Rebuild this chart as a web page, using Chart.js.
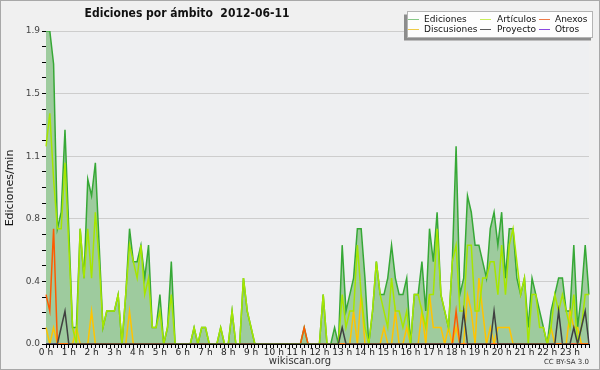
<!DOCTYPE html>
<html><head><meta charset="utf-8">
<script src="https://cdn.jsdelivr.net/npm/chart.js@4/dist/chart.umd.min.js"></script>
<style>html,body{margin:0;padding:0;background:#f0f0f0}canvas{display:block}</style>
</head><body>
<canvas id="c" width="600" height="370"></canvas>
<script>
const chartTitle = 'Ediciones por ámbito  2012-06-11';
const yAxisTitle = 'Ediciones/min';
const seriesNames = ['Ediciones', 'Artículos', 'Anexos', 'Discusiones', 'Proyecto', 'Otros'];
const hourLabels = ['0 h','1 h','2 h','3 h','4 h','5 h','6 h','7 h','8 h','9 h','10 h','11 h',
                    '12 h','13 h','14 h','15 h','16 h','17 h','18 h','19 h','20 h','21 h','22 h','23 h'];
const yMajorTicks = [0, 0.38, 0.76, 1.14, 1.52, 1.9];
const yMajorLabels = ['0.0', '0.4', '0.8', '1.1', '1.5', '1.9'];

// 10-minute slots, 144 per day
const slots = [];
for (let h = 0; h < 24; h++) for (let m = 0; m < 60; m += 10) slots.push(h + ':' + (m < 10 ? '0' : '') + m);

const ediciones = [
  1.9,1.9,1.7,0.7,0.8,1.3,0.7,0.1,0.1,0.7,0.4,1.0,
  0.9,1.1,0.6,0.1,0.2,0.2,0.2,0.3,0,0.3,0.7,0.5,
  0.5,0.6,0.4,0.6,0.1,0.1,0.3,0,0.1,0.5,0,0,
  0,0,0,0.1,0,0.1,0.1,0,0,0,0.1,0,
  0,0.2,0,0,0.4,0.2,0.1,0,0,0,0,0,
  0,0,0,0,0,0,0,0,0.1,0,0,0,
  0,0.3,0,0,0.1,0,0.6,0.2,0.3,0.4,0.7,0.7,
  0.4,0,0.2,0.5,0.3,0.3,0.4,0.6,0.4,0.3,0.3,0.4,
  0,0.3,0.3,0.5,0.2,0.7,0.5,0.8,0.3,0.2,0.1,0.5,
  1.2,0.3,0.4,0.9,0.8,0.6,0.6,0.5,0.4,0.7,0.8,0.6,
  0.8,0.4,0.7,0.7,0.4,0.3,0.4,0.1,0.4,0.3,0.2,0.1,
  0,0.2,0.3,0.4,0.4,0.2,0.2,0.6,0.1,0.3,0.6,0.3
];
const articulos = [
  1.2,1.4,1.0,0.7,0.7,1.1,0.6,0.1,0,0.7,0.4,0.7,
  0.4,0.8,0.5,0.1,0.2,0.2,0.2,0.3,0,0.3,0.6,0.5,
  0.4,0.6,0.3,0.4,0.1,0.1,0.2,0,0.1,0.3,0,0,
  0,0,0,0.1,0,0.1,0.1,0,0,0,0.1,0,
  0,0.2,0,0,0.4,0.2,0.1,0,0,0,0,0,
  0,0,0,0,0,0,0,0,0,0,0,0,
  0,0.3,0,0,0,0,0.3,0.1,0.2,0.2,0.6,0.3,
  0.1,0,0.2,0.5,0.3,0.2,0.1,0.4,0.2,0.2,0.1,0.2,
  0,0.3,0.3,0.2,0.1,0.3,0.3,0.7,0.3,0.2,0.1,0.5,
  0.6,0.2,0.2,0.6,0.6,0.2,0.2,0.4,0.4,0.5,0.5,0.3,
  0.6,0.3,0.6,0.7,0.5,0.3,0.4,0,0.3,0.3,0.1,0.1,
  0,0.1,0.3,0.2,0.3,0.2,0.1,0.3,0,0.1,0.3,0.3
];
const anexos = [
  0.3,0.2,0.7,0,0,0,0,0,0,0,0,0,
  0,0,0,0,0,0,0,0,0,0,0,0,
  0,0,0,0,0,0,0,0,0,0,0,0,
  0,0,0,0,0,0,0,0,0,0,0,0,
  0,0,0,0,0,0,0,0,0,0,0,0,
  0,0,0,0,0,0,0,0,0.1,0,0,0,
  0,0,0,0,0,0,0,0,0,0,0,0,
  0,0,0,0,0,0,0,0,0,0,0,0,
  0,0,0,0,0,0,0,0,0,0,0,0,
  0.2,0,0,0,0,0,0,0,0,0,0,0,
  0,0,0,0,0,0,0,0,0,0,0,0,
  0,0,0,0,0,0,0,0,0,0,0,0
];
const discusiones = [
  0.1,0,0.1,0,0,0,0,0,0.1,0,0,0,
  0.2,0,0,0,0,0,0,0,0,0,0.2,0,
  0,0,0,0,0,0,0,0,0,0,0,0,
  0,0,0,0,0,0,0,0,0,0,0,0,
  0,0,0,0,0,0,0,0,0,0,0,0,
  0,0,0,0,0,0,0,0,0,0,0,0,
  0,0,0,0,0,0,0,0,0,0.2,0,0.3,
  0,0,0,0,0,0.1,0,0,0.2,0,0,0.1,
  0,0,0,0.2,0,0.3,0.1,0.1,0.1,0,0.1,0,
  0.1,0,0,0.3,0.2,0,0.4,0.2,0,0.1,0,0.1,
  0.1,0.1,0.1,0,0,0,0,0,0,0,0,0,
  0,0.1,0,0,0,0,0.2,0.1,0.1,0,0,0
];
const proyecto = [
  0,0,0,0,0.1,0.2,0,0,0,0,0,0,
  0,0,0,0,0,0,0,0,0,0,0,0,
  0,0,0,0,0,0,0,0,0,0,0,0,
  0,0,0,0,0,0,0,0,0,0,0,0,
  0,0,0,0,0,0,0,0,0,0,0,0,
  0,0,0,0,0,0,0,0,0,0,0,0,
  0,0,0,0,0,0,0.1,0,0,0,0,0,
  0,0,0,0,0,0,0,0,0,0,0,0,
  0,0,0,0,0,0,0,0,0,0,0,0,
  0,0,0.2,0,0,0,0,0,0,0,0.2,0,
  0,0,0,0,0,0,0,0,0,0,0,0,
  0,0,0,0.2,0,0,0,0.1,0,0.1,0.2,0
];
const otros = [
  0,0,0,0,0,0,0,0,0,0,0,0,
  0,0,0,0,0,0,0,0,0,0,0,0,
  0,0,0,0,0,0,0,0,0,0,0,0,
  0,0,0,0,0,0,0,0,0,0,0,0,
  0,0,0,0,0,0,0,0,0,0,0,0,
  0,0,0,0,0,0,0,0,0,0,0,0,
  0,0,0,0,0,0,0,0,0,0,0,0,
  0,0,0,0,0,0,0,0,0,0,0,0,
  0,0,0,0,0,0,0,0,0,0,0,0,
  0,0,0,0,0,0,0,0,0,0,0,0,
  0,0,0,0,0,0,0,0,0,0,0,0,
  0,0,0,0,0,0,0,0,0,0,0,0
];

const FONT = "'DejaVu Sans', sans-serif";
const TITLE_FONT = "'DejaVu Sans Condensed', 'DejaVu Sans', sans-serif";
const colors = {
  Ediciones: '#36a836', 'Artículos': '#a6e600', Anexos: '#ff5a00',
  Discusiones: '#ffc400', Proyecto: '#404040', Otros: '#8a3be0'
};
const legendColors = {
  Ediciones: '#86c886', 'Artículos': '#c8ee5a', Anexos: '#ee7a48',
  Discusiones: '#eecb48', Proyecto: '#5a5a5a', Otros: '#8a48e0'
};
const seriesData = [ediciones, articulos, anexos, discusiones, proyecto, otros];

// minor y ticks: 4 subdivisions per major interval
const yTickValues = [];
for (let k = 0; k < yMajorTicks.length - 1; k++) {
  const a = yMajorTicks[k], b = yMajorTicks[k + 1];
  for (let j = 0; j < 4; j++) yTickValues.push(a + (b - a) * j / 4);
}
yTickValues.push(yMajorTicks[yMajorTicks.length - 1]);

const bgPlugin = {
  id: 'bg',
  beforeDraw(chart) {
    const c = chart.ctx, a = chart.chartArea;
    c.save();
    c.fillStyle = '#f0f0f0';
    c.fillRect(0, 0, chart.width, chart.height);
    c.strokeStyle = '#a8a8a8';
    c.lineWidth = 1;
    c.strokeRect(0.5, 0.5, chart.width - 1, chart.height - 1);
    c.fillStyle = '#eeeff1';
    c.fillRect(a.left, a.top, a.right - a.left, a.bottom - a.top);
    c.restore();
  }
};

const decorPlugin = {
  id: 'decor',
  afterDraw(chart) {
    const c = chart.ctx;
    c.save();
    // title
    c.fillStyle = '#111';
    c.font = 'bold 12px ' + TITLE_FONT;
    c.textAlign = 'center';
    c.textBaseline = 'middle';
    c.fillText(chartTitle, 187, 14);
    // y axis title
    c.save();
    c.translate(10, 188);
    c.rotate(-Math.PI / 2);
    c.font = '11px ' + FONT;
    c.fillStyle = '#111';
    c.fillText(yAxisTitle, 0, 0);
    c.restore();
    // footer
    c.font = '10px ' + FONT;
    c.fillStyle = '#333';
    c.fillText('wikiscan.org', 300, 361);
    c.font = '7px ' + FONT;
    c.textAlign = 'right';
    c.fillText('CC BY-SA 3.0', 589, 362);
    // legend
    c.fillStyle = '#8c8c8c';
    c.fillRect(404, 14.5, 187, 26);
    c.fillStyle = '#fdfdfd';
    c.fillRect(407, 11.5, 186, 26);
    c.strokeStyle = '#b4b4b4';
    c.lineWidth = 1;
    c.strokeRect(407.5, 11.5, 185, 26);
    const lineX = [408, 480, 539], textX = [424, 497, 555], rowY = [19.5, 29.5];
    const layout = [[0,0],[1,0],[2,0],[0,1],[1,1],[2,1]];
    c.font = '9px ' + FONT;
    c.textAlign = 'left';
    c.textBaseline = 'middle';
    seriesNames.forEach((name, i) => {
      const [col, row] = layout[i];
      c.strokeStyle = legendColors[name];
      c.beginPath();
      c.moveTo(lineX[col], rowY[row]);
      c.lineTo(lineX[col] + 11, rowY[row]);
      c.stroke();
      c.fillStyle = '#111';
      c.fillText(name, textX[col], rowY[row]);
    });
    c.restore();
  }
};

const orders = [10, 2, 3, 4, 1, 5];
new Chart(document.getElementById('c'), {
  type: 'line',
  data: {
    labels: slots,
    datasets: seriesNames.map((name, i) => ({
      label: name,
      data: seriesData[i],
      borderColor: colors[name],
      backgroundColor: i === 0 ? '#9ecb9e' : colors[name],
      fill: i === 0 ? 'origin' : false,
      order: orders[i],
      borderWidth: 1.5,
      pointRadius: 0,
      tension: 0
    }))
  },
  options: {
    responsive: false,
    animation: false,
    devicePixelRatio: 1,
    layout: { padding: { top: 31, right: 11, left: 0, bottom: 0 } },
    plugins: { legend: { display: false }, title: { display: false }, tooltip: { enabled: false } },
    scales: {
      x: {
        type: 'category',
        offset: false,
        grid: { drawOnChartArea: false, tickColor: '#000', tickLength: 4 },
        border: { color: '#000' },
        ticks: {
          autoSkip: false, maxRotation: 0, minRotation: 0, padding: -1,
          font: { family: FONT, size: 9 }, color: '#222',
          callback: (v, i) => (i % 6 === 0 ? hourLabels[i / 6] : '')
        },
        afterFit: s => { s.height = 26; }
      },
      y: {
        type: 'linear',
        min: 0, max: 1.9,
        grid: {
          color: ctx => (ctx.index % 4 === 0 ? '#cdcdcd' : 'rgba(0,0,0,0)'),
          tickColor: '#000', tickLength: 4
        },
        border: { color: '#000' },
        afterBuildTicks: s => { s.ticks = yTickValues.map(v => ({ value: v })); },
        ticks: {
          padding: 2,
          font: { family: FONT, size: 9 }, color: '#444',
          callback: (v, i) => (i % 4 === 0 ? yMajorLabels[i / 4] : '')
        },
        afterFit: s => { s.width = 46; }
      }
    }
  },
  plugins: [bgPlugin, decorPlugin]
});
</script>
</body></html>
